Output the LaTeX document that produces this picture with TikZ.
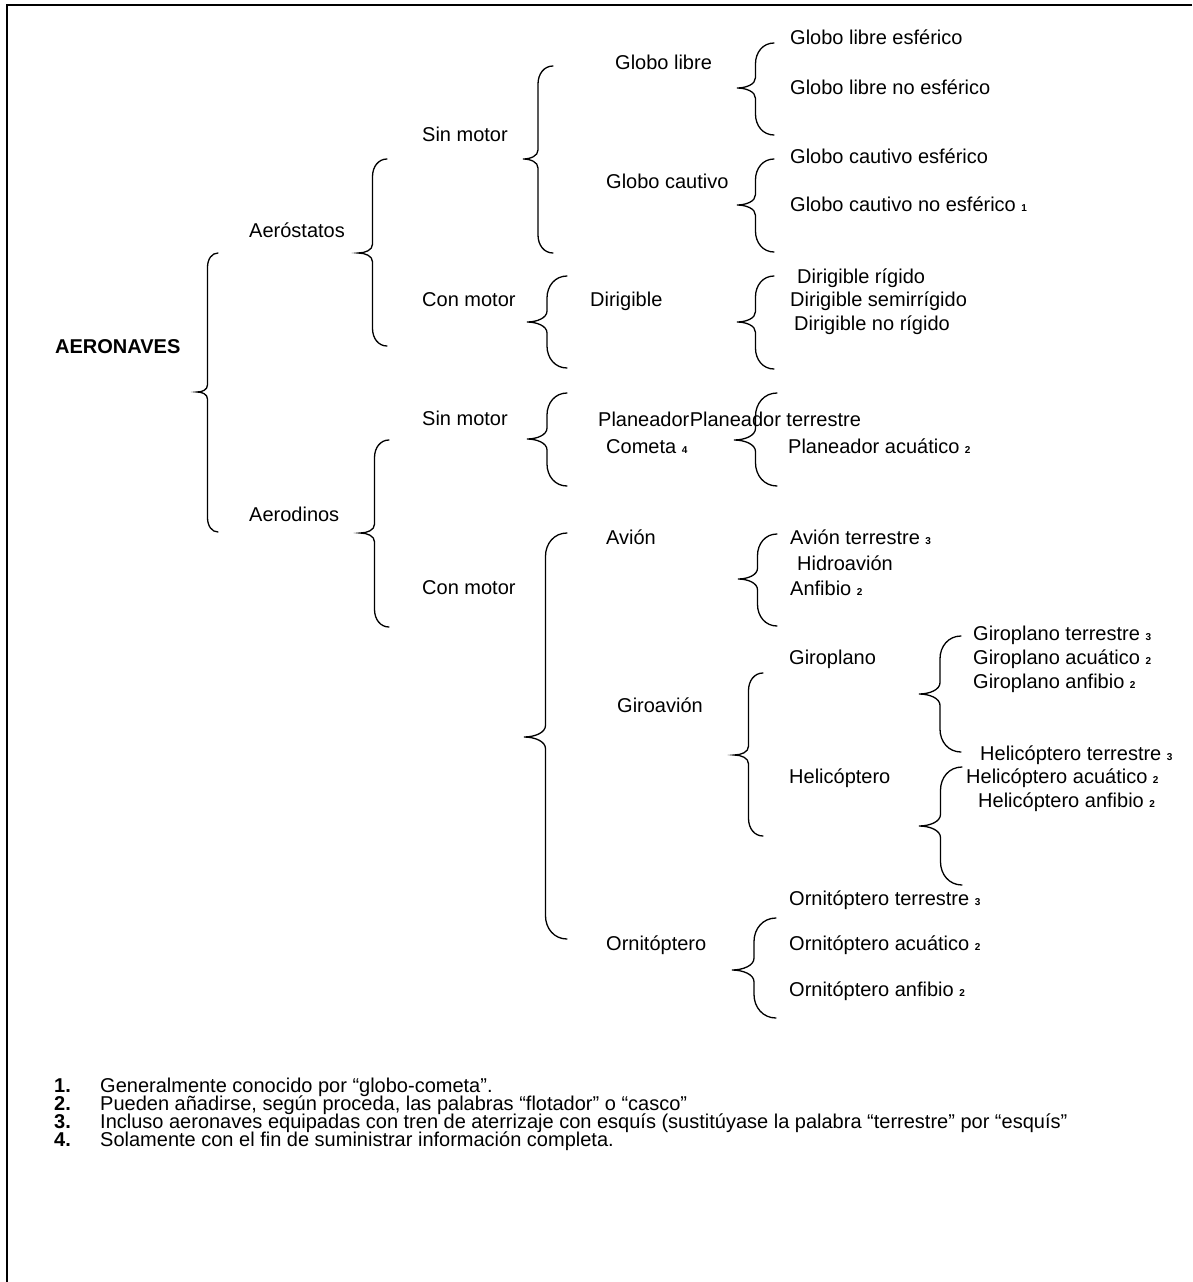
\documentclass[tikz,border=0pt]{standalone}
\usepackage{fontspec}
\setmainfont{Liberation Sans}
\usetikzlibrary{positioning}

\newcommand{\nota}[1]{{\fontsize{10}{10}\selectfont\bfseries #1}}
% llave: ends x, amplitude, top y, tip y, bottom y
\newcommand{\llave}[5]{%
  \draw[llv] (#1,#3) .. controls ({#1-0.3*#2},#3) and ({#1-#2/2},{#3+0.2*#2+2}) .. ({#1-#2/2},{#3+0.4*#2+6})
  -- ({#1-#2/2},{#4-0.2*#2-3}) .. controls ({#1-#2/2},{#4-0.1*#2}) and ({#1-0.75*#2},#4) .. ({#1-#2},#4)
  .. controls ({#1-0.75*#2},#4) and ({#1-#2/2},{#4+0.1*#2}) .. ({#1-#2/2},{#4+0.2*#2+3})
  -- ({#1-#2/2},{#5-0.4*#2-6}) .. controls ({#1-#2/2},{#5-0.2*#2-2}) and ({#1-0.3*#2},#5) .. (#1,#5);}

\begin{document}
\begin{tikzpicture}[x=1pt,y=-1pt,
    rama/.style={anchor=base west,inner sep=0pt,font=\fontsize{20}{22}\selectfont},
    pie/.style={anchor=base west,inner sep=0pt,font=\fontsize{20}{22}\selectfont},
    llv/.style={line width=1.3pt,line cap=round}]
                \useasboundingbox (0,0) rectangle (1192,1282);
                \draw[line width=2pt] (1192,5) -- (7,5) -- (7,1282);
                % arbol
                \node[rama,font=\fontsize{20}{22}\selectfont\bfseries](aeronaves)at(55, 353){AERONAVES};
                \node[rama](aerostatos)at(249, 237){Aeróstatos};
                \node[rama](aerodinos)at(249, 521){Aerodinos};
                \node[rama](sinA)at(422, 141){Sin motor};
                \node[rama](conA)at(422, 306){Con motor};
                \node[rama](sinB)at(422, 425){Sin motor};
                \node[rama](conB)at(422, 594){Con motor};
                \node[rama](globol)at(615, 69){Globo libre};
                \node[rama](globoc)at(606, 188){Globo cautivo};
                \node[rama](dirig)at(590, 306){Dirigible};
                \node[rama](planeador)at(598, 426){Planeador};
                \node[rama](cometa)at(606, 453){Cometa \nota{4}};
                \node[rama](avion)at(606, 544){Avión};
                \node[rama](giroavion)at(617, 712){Giroavión};
                \node[rama](giroplano)at(789, 664){Giroplano};
                \node[rama](helic)at(789, 783){Helicóptero};
                \node[rama](ornit)at(606, 950){Ornitóptero};
                % hojas
                \node[rama](gle)at(790, 44){Globo libre esférico};
                \node[rama](glne)at(790, 94){Globo libre no esférico};
                \node[rama](gce)at(790, 163){Globo cautivo esférico};
                \node[rama](gcne)at(790, 211){Globo cautivo no esférico \nota{1}};
                \node[rama](drig)at(797, 283){Dirigible rígido};
                \node[rama](dsemi)at(790, 306){Dirigible semirrígido};
                \node[rama](dnor)at(794, 330){Dirigible no rígido};
                \node[rama](pter)at(planeador.base east){Planeador terrestre};
                \node[rama](pacu)at(788, 453){Planeador acuático \nota{2}};
                \node[rama](ater)at(790, 544){Avión terrestre \nota{3}};
                \node[rama](hidro)at(797, 570){Hidroavión};
                \node[rama](anfi)at(790, 595){Anfibio \nota{2}};
                \node[rama](gpter)at(973, 640){Giroplano terrestre \nota{3}};
                \node[rama](gpacu)at(973, 664){Giroplano acuático \nota{2}};
                \node[rama](gpanf)at(973, 688){Giroplano anfibio \nota{2}};
                \node[rama](hter)at(980, 760){Helicóptero terrestre \nota{3}};
                \node[rama](hacu)at(966, 783){Helicóptero acuático \nota{2}};
                \node[rama](hanf)at(978, 807){Helicóptero anfibio \nota{2}};
                \node[rama](oter)at(789, 905){Ornitóptero terrestre \nota{3}};
                \node[rama](oacu)at(789, 950){Ornitóptero acuático \nota{2}};
                \node[rama](oanf)at(789, 996){Ornitóptero anfibio \nota{2}};
                % llaves
                \llave{218}{21}{253}{392}{532}
                \llave{387}{29}{159}{253}{346}
                \llave{389}{29}{440}{533}{627}
                \llave{553}{30}{66}{159}{253}
                \llave{567}{40}{276}{322}{368}
                \llave{567}{40}{393}{439}{486}
                \llave{567}{43}{533}{737}{939}
                \llave{774}{37}{43}{88}{135}
                \llave{774}{37}{159}{205}{252}
                \llave{774}{37}{276}{322}{369}
                \llave{777}{43}{393}{440}{486}
                \llave{777}{39}{534}{579}{626}
                \llave{763}{29}{673}{755}{836}
                \llave{961}{42}{636}{694}{752}
                \llave{962}{43}{767}{826}{885}
                \llave{776}{44}{918}{970}{1018}
                % notas
                \node[pie,font=\fontsize{20}{22}\selectfont\bfseries](n1)at(54, 1092){1.};
                \node[pie,font=\fontsize{20}{22}\selectfont\bfseries](n2)at(54, 1110){2.};
                \node[pie,font=\fontsize{20}{22}\selectfont\bfseries](n3)at(54, 1128){3.};
                \node[pie,font=\fontsize{20}{22}\selectfont\bfseries](n4)at(54, 1146){4.};
                \node[pie](t1)at(100, 1092){Generalmente conocido por “globo-cometa”.};
                \node[pie](t2)at(100, 1110){Pueden añadirse, según proceda, las palabras “flotador” o “casco”};
                \node[pie](t3)at(100, 1128){Incluso aeronaves equipadas con tren de aterrizaje con esquís (sustitúyase la palabra “terrestre” por “esquís”};
                \node[pie](t4)at(100, 1146){Solamente con el fin de suministrar información completa.};
            \end{tikzpicture}
\end{document}
